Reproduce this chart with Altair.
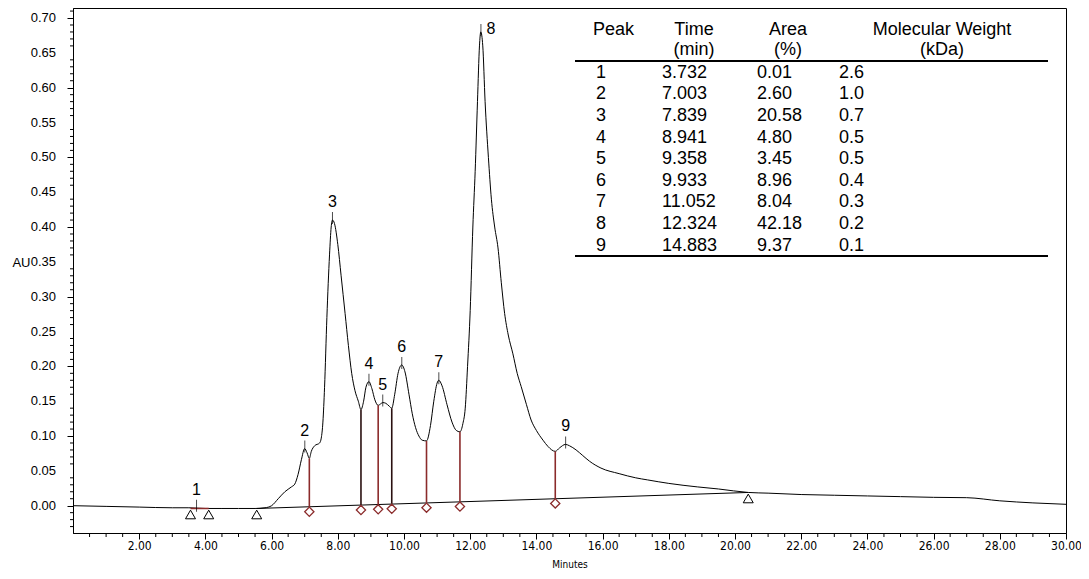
import altair as alt
import pandas as pd

# ---------------- data ----------------
time_min = [0.0, 1.0, 2.0, 3.0, 3.5, 4.0, 4.5, 5.0, 5.5, 5.8, 6.0, 6.2, 6.4, 6.6, 6.7,
            6.8, 6.9, 7.0, 7.07, 7.14, 7.2, 7.3, 7.45, 7.5, 7.55, 7.6, 7.67, 7.75, 7.8,
            7.84, 7.9, 8.0, 8.1, 8.22, 8.32, 8.42, 8.52, 8.62, 8.70, 8.78, 8.85, 8.94,
            9.03, 9.12, 9.22, 9.29, 9.36, 9.45, 9.55, 9.63, 9.72, 9.82, 9.93, 10.03,
            10.15, 10.25, 10.35, 10.45, 10.55, 10.68, 10.8, 10.9, 11.0, 11.05, 11.15,
            11.3, 11.45, 11.58, 11.69, 11.78, 11.85, 11.92, 12.0, 12.08, 12.15, 12.22,
            12.28, 12.32, 12.38, 12.45, 12.55, 12.64, 12.74, 12.84, 12.94, 13.04, 13.15,
            13.29, 13.42, 13.54, 13.7, 13.84, 14.0, 14.2, 14.35, 14.57, 14.7, 14.88,
            15.0, 15.2, 15.4, 15.6, 15.95, 16.5, 17.0, 17.36, 18.0, 18.86, 19.5, 20.4,
            21.0, 22.0, 23.0, 24.0, 25.0, 26.0, 27.0, 28.0, 29.0, 30.0]
absorbance = [0.000, -0.001, -0.002, -0.003, -0.003, -0.004, -0.004, -0.004, -0.004, -0.003,
              0.000, 0.010, 0.020, 0.027, 0.031,
              0.045, 0.066, 0.082, 0.076, 0.068, 0.078, 0.086, 0.090, 0.097, 0.120, 0.170,
              0.270, 0.360, 0.400,
              0.410, 0.405, 0.375, 0.330, 0.276, 0.230, 0.190, 0.165, 0.150, 0.138, 0.150,
              0.170, 0.178,
              0.168, 0.152, 0.144, 0.146, 0.148, 0.147, 0.143, 0.140, 0.160, 0.190, 0.202,
              0.192,
              0.160, 0.132, 0.112, 0.100, 0.094, 0.093, 0.115, 0.150, 0.176, 0.180, 0.172,
              0.145, 0.120, 0.108, 0.106, 0.118, 0.140, 0.200, 0.280, 0.400, 0.480, 0.580,
              0.660, 0.680, 0.660, 0.580, 0.500, 0.440, 0.400, 0.370, 0.320, 0.276, 0.245,
              0.218, 0.190, 0.171, 0.145, 0.123, 0.108, 0.094, 0.085, 0.078, 0.083, 0.088,
              0.086, 0.080, 0.072, 0.064, 0.054, 0.046, 0.040, 0.037, 0.032, 0.027, 0.024,
              0.019,
              0.018, 0.016, 0.015, 0.014, 0.013, 0.012, 0.0115, 0.007, 0.004, 0.002]

peak_no = ["1", "2", "3", "4", "5", "6", "7", "8", "9"]
peak_time = [3.732, 7.003, 7.839, 8.941, 9.358, 9.933, 11.052, 12.324, 14.883]
peak_apex = [-0.003, 0.082, 0.410, 0.178, 0.148, 0.202, 0.180, 0.680, 0.088]
time_txt = ["3.732", "7.003", "7.839", "8.941", "9.358", "9.933", "11.052", "12.324", "14.883"]
area_txt = ["0.01", "2.60", "20.58", "4.80", "3.45", "8.96", "8.04", "42.18", "9.37"]
mw_txt = ["2.6", "1.0", "0.7", "0.5", "0.5", "0.4", "0.3", "0.2", "0.1"]

baseline_t = [5.55, 20.4]
baseline_v = [-0.004, 0.019]
p1_base_t = [3.55, 4.1]
p1_base_v = [-0.004, -0.004]
tri_t = [3.55, 4.1, 5.55, 20.4]
tri_v = [-0.004, -0.004, -0.004, 0.019]
drop_t = [7.14, 8.70, 9.22, 9.63, 10.68, 11.69, 14.57]
drop_base = [-0.0015, 0.001, 0.002, 0.0027, 0.0043, 0.0059, 0.0104]
drop_top = [0.068, 0.138, 0.144, 0.140, 0.093, 0.106, 0.078]

header_top = ["Peak", "Time", "Area", "Molecular Weight"]
header_sub = ["", "(min)", "(%)", "(kDa)"]

x_major = [2 * i for i in range(1, 16)]
x_minor = [i * 0.5 for i in range(1, 60) if i % 4 != 0]
y_major = [round(0.05 * i, 2) for i in range(15)]
y_minor = [round(-0.03 + 0.01 * i, 2) for i in range(75) if (i - 3) % 5 != 0 or i < 3]

# ---------------- tables ----------------
curve_df = pd.DataFrame({"t": time_min, "v": absorbance})
peaks_df = pd.DataFrame({"t": peak_time, "v": peak_apex, "lab": peak_no})
base_df = pd.DataFrame({"t": baseline_t, "v": baseline_v})
p1_df = pd.DataFrame({"t": p1_base_t, "v": p1_base_v})
tri_df = pd.DataFrame({"t": tri_t, "v": tri_v})
drop_df = pd.DataFrame({"t": drop_t, "v": drop_base, "v2": drop_top})
table_df = pd.DataFrame({"row": list(range(len(peak_no))), "peak": peak_no,
                         "time": time_txt, "area": area_txt, "mw": mw_txt})
xminor_df = pd.DataFrame({"t": x_minor})
yminor_df = pd.DataFrame({"v": y_minor})
ymajor_df = pd.DataFrame({"v": y_major})

FONT = "Liberation Sans, Arial, Helvetica, sans-serif"
NARROW = "Liberation Sans Narrow, Arial Narrow, DejaVu Sans Condensed, Liberation Sans, sans-serif"
DARK_RED = "#8b2b2b"

W, H = 993, 525
Y_LO, Y_HI = -0.0392, 0.7144
xs = alt.Scale(domain=[0, 30], nice=False, zero=False)
ys = alt.Scale(domain=[Y_LO, Y_HI], nice=False, zero=False)

x_axis = alt.Axis(
    values=x_major, format=".2f", tickSize=6,
    tickColor="black", domainColor="black", labelColor="black",
    labelFont=NARROW, labelFontSize=12, labelPadding=1, labelFlush=False,
    labelOverlap=False, grid=False,
    title="Minutes", titleFont=NARROW, titleFontSize=10, titleFontWeight="normal",
    titleColor="black", titlePadding=8,
)
y_axis = alt.Axis(
    values=y_major, labels=False, tickSize=6,
    tickColor="black", domainColor="black", grid=False,
    title="AU", titleAngle=0, titleAlign="right", titleBaseline="middle",
    titleX=-43, titleY=254, titleFont=FONT, titleFontSize=13, titleFontWeight="normal",
    titleColor="black",
)

X = alt.X("t:Q", scale=xs)
Y = alt.Y("v:Q", scale=ys)

curve = alt.Chart(curve_df).mark_line(color="black", strokeWidth=1, interpolate="monotone").encode(
    x=alt.X("t:Q", scale=xs, axis=x_axis),
    y=alt.Y("v:Q", scale=ys, axis=y_axis),
)

# y tick labels (0.00 ... 0.70) and minor ticks
y_labels = alt.Chart(ymajor_df).transform_calculate(lab="format(datum.v, '.2f')").mark_text(
    font=FONT, fontSize=13, color="black", align="right", baseline="middle").encode(
    y=Y, x=alt.value(-17), text="lab:N")
x_minor_ticks = alt.Chart(xminor_df).mark_rule(color="black", strokeWidth=1).encode(
    x=X, y=alt.value(H), y2=alt.value(H + 4))
y_minor_ticks = alt.Chart(yminor_df).mark_rule(color="black", strokeWidth=1).encode(
    y=Y, x=alt.value(-3), x2=alt.value(0))

baseline = alt.Chart(base_df).mark_line(color="black", strokeWidth=1).encode(x=X, y=Y)

p1_line = alt.Chart(p1_df).mark_line(color=DARK_RED, strokeWidth=1.5).encode(x=X, y=Y)

drops = alt.Chart(drop_df).mark_rule(strokeWidth=1.6).encode(
    x=X, y=Y, y2="v2:Q",
    color=alt.condition("datum.t == 8.7 || datum.t == 9.63", alt.value("#2a1010"), alt.value(DARK_RED)),
)

diamonds = alt.Chart(drop_df).mark_point(shape="diamond", size=85, filled=True, fill="white",
                                         stroke=DARK_RED, strokeWidth=1.3, yOffset=5, opacity=1).encode(x=X, y=Y)

triangles = alt.Chart(tri_df).mark_point(shape="triangle-up", size=100, filled=True, fill="white",
                                         stroke="black", strokeWidth=1, yOffset=6, opacity=1).encode(x=X, y=Y)

peak_ticks = alt.Chart(peaks_df).mark_tick(orient="vertical", size=12, thickness=1, color="black",
                                           yOffset=-2).encode(x=X, y=Y)

peak_labels = alt.Chart(peaks_df).transform_filter("datum.lab != '8'").mark_text(
    font=FONT, fontSize=16, color="black", dy=-18, baseline="middle", align="center").encode(
    x=X, y=Y, text="lab:N")

peak8_label = alt.Chart(peaks_df).transform_filter("datum.lab == '8'").mark_text(
    font=FONT, fontSize=16, color="black", dx=10, dy=-3, baseline="middle", align="center").encode(
    x=X, y=Y, text="lab:N")

# ---------------- inset table (placed in pixel layout) ----------------
TFS = 18
table_layers = []
hdr_x = [520, 621, 715, 869]
hdr_align = ["left", "center", "center", "center"]
for txt, sub, hx, al in zip(header_top, header_sub, hdr_x, hdr_align):
    table_layers.append(alt.Chart(table_df).transform_filter("datum.row == 0").mark_text(
        font=FONT, fontSize=TFS, color="black", align=al, baseline="middle", text=txt).encode(
        x=alt.value(hx), y=alt.value(22)))
    if sub:
        table_layers.append(alt.Chart(table_df).transform_filter("datum.row == 0").mark_text(
            font=FONT, fontSize=TFS, color="black", align=al, baseline="middle", text=sub).encode(
            x=alt.value(hx), y=alt.value(42)))

px_to_v = f"{Y_HI} - (64.7 + datum.row * 21.6) * {(Y_HI - Y_LO) / H}"
for field, cx in zip(["peak", "time", "area", "mw"], [523, 589, 684, 766]):
    table_layers.append(alt.Chart(table_df).transform_calculate(v=px_to_v).mark_text(
        font=FONT, fontSize=TFS, color="black", align="left", baseline="middle").encode(
        x=alt.value(cx), y=Y, text=f"{field}:N"))

for ly in [53, 248]:
    table_layers.append(alt.Chart(table_df).transform_filter("datum.row == 0").mark_rule(
        color="black", strokeWidth=2).encode(
        x=alt.value(502), x2=alt.value(975), y=alt.value(ly)))

chart = alt.layer(
    curve, y_labels, x_minor_ticks, y_minor_ticks, baseline, p1_line, drops, diamonds, triangles,
    peak_ticks, peak_labels, peak8_label, *table_layers
).properties(
    width=W, height=H,
    padding={"left": 65, "top": 0, "right": 15, "bottom": 40},
    autosize=alt.AutoSizeParams(type="none"),
    background="white",
).configure_view(stroke="black", strokeWidth=1)

chart.save("out.html", embed_options={"renderer": "svg", "actions": False})
